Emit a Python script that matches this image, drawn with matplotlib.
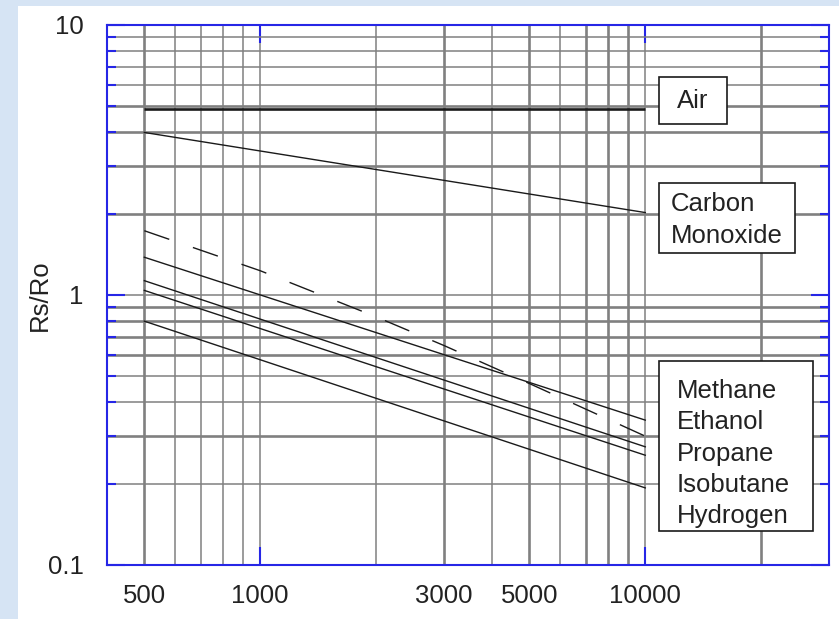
import numpy as np
import matplotlib
matplotlib.use("Agg")
from matplotlib import pyplot as plt
from matplotlib import ticker
from matplotlib.patches import Rectangle

# concentration (ppm) vs Rs/Ro
x_ends = [500, 10000]
air = [4.9, 4.9]
carbon_monoxide = [4.0, 2.02]

dashed_x = [500, 1000, 2000, 3000, 5000, 10000]
dashed_y = [1.73, 1.23, 0.83, 0.65, 0.47, 0.30]

solid_lines = [
    [1.38, 0.344],
    [1.13, 0.274],
    [1.04, 0.255],
    [0.80, 0.193],
]

x_labels = {500: "500", 1000: "1000", 3000: "3000", 5000: "5000", 10000: "10000"}
y_labels = {0.1: "0.1", 1: "1", 10: "10"}

gas_names = ["Methane", "Ethanol", "Propane", "Isobutane", "Hydrogen"]

plt.rcParams['font.family'] = ['Liberation Sans', 'DejaVu Sans']

W, H = 839, 619
fig = plt.figure(figsize=(W / 100, H / 100), dpi=100)
fig.patch.set_facecolor('#d6e4f4')

def px(x, y):
    # pixel coords (from top-left) -> figure fraction
    return x / W, 1 - y / H

# white panel
fig.add_artist(Rectangle(px(18, 619), (W - 18) / W, (619 - 6) / H,
                         transform=fig.transFigure, facecolor='white',
                         edgecolor='none', zorder=-10))

left, top, right, bottom = 107, 25, 829, 565
ax = fig.add_axes([left / W, 1 - bottom / H, (right - left) / W, (bottom - top) / H])
ax.set_facecolor('white')
ax.set_xscale('log')
ax.set_yscale('log')
ax.set_xlim(400, 30000)
ax.set_ylim(0.1, 10)

ink = '#1a1a1a'
ax.plot(x_ends, air, color=ink, lw=1.9, solid_capstyle='butt')
ax.plot(x_ends, carbon_monoxide, color=ink, lw=1.0)
for ys in solid_lines:
    ax.plot(x_ends, ys, color=ink, lw=1.0)
l, = ax.plot(dashed_x, dashed_y, color=ink, lw=1.0)
l.set_dashes([19, 18])

blue = '#2626e6'
for s in ax.spines.values():
    s.set_color(blue)
    s.set_linewidth(1.5)
    s.set_zorder(5)

ax.xaxis.set_major_locator(ticker.FixedLocator([1000, 10000]))
ax.xaxis.set_minor_locator(ticker.LogLocator(base=10, subs=np.arange(2, 10), numticks=20))
ax.xaxis.set_major_formatter(ticker.FuncFormatter(lambda v, p: x_labels.get(int(round(v)), "")))
ax.xaxis.set_minor_formatter(ticker.FuncFormatter(lambda v, p: x_labels.get(int(round(v)), "")))

ax.yaxis.set_major_locator(ticker.FixedLocator([0.1, 1, 10]))
ax.yaxis.set_minor_locator(ticker.LogLocator(base=10, subs=np.arange(2, 10), numticks=20))
ax.yaxis.set_major_formatter(ticker.FuncFormatter(lambda v, p: y_labels.get(round(v, 1), "")))
ax.yaxis.set_minor_formatter(ticker.NullFormatter())

ax.tick_params(axis='both', which='both', direction='in', top=True, right=True,
               color=blue, width=1.5, labelsize=18.5, labelcolor='#222222')
ax.tick_params(axis='x', which='major', length=13, pad=14)
ax.tick_params(axis='x', which='minor', length=0, pad=14)
ax.tick_params(axis='y', which='major', length=13, pad=17)
ax.tick_params(axis='y', which='minor', length=6.5)

ax.set_axisbelow(True)
ax.grid(True, which='both', color='#808080', lw=1.0)

ax.set_ylabel("Rs/Ro", fontsize=18.5, color='#222222')
ax.yaxis.set_label_coords(-0.077, 0.5)

fig.canvas.draw()
thick_x = {500, 3000, 5000, 7000, 8000, 9000, 20000}
thick_y = {5, 4, 3, 2, 0.9, 0.8, 0.7, 0.6, 0.3}
for t in ax.xaxis.get_minor_ticks() + ax.xaxis.get_major_ticks():
    v = int(round(t.get_loc()))
    t.gridline.set_linewidth(1.9 if v in thick_x else 1.1)
for t in ax.yaxis.get_minor_ticks() + ax.yaxis.get_major_ticks():
    v = round(t.get_loc(), 1)
    t.gridline.set_linewidth(1.9 if v in thick_y else 1.1)

def label_box(x0, y0, x1, y1):
    (fx0, fy1), (fx1, fy0) = px(x0, y0), px(x1, y1)
    fig.add_artist(Rectangle((fx0, fy0), fx1 - fx0, fy1 - fy0, transform=fig.transFigure,
                             facecolor='white', edgecolor='#1a1a1a', lw=1.2, zorder=4))

label_box(659, 77, 727, 124)
fig.text(*px(693, 108), "Air", fontsize=18.5, color='#222222', ha='center', va='baseline', zorder=6)

label_box(659, 183, 795, 253)
fig.text(*px(671, 211), "Carbon", fontsize=18.5, color='#222222', va='baseline', zorder=6)
fig.text(*px(671, 243), "Monoxide", fontsize=18.5, color='#222222', va='baseline', zorder=6)

label_box(659, 361, 813, 531)
for i, name in enumerate(gas_names):
    fig.text(*px(677, 398 + i * 31.3), name, fontsize=18.5, color='#222222',
             va='baseline', zorder=6)

fig.savefig("out.png", dpi=100, facecolor=fig.get_facecolor())
